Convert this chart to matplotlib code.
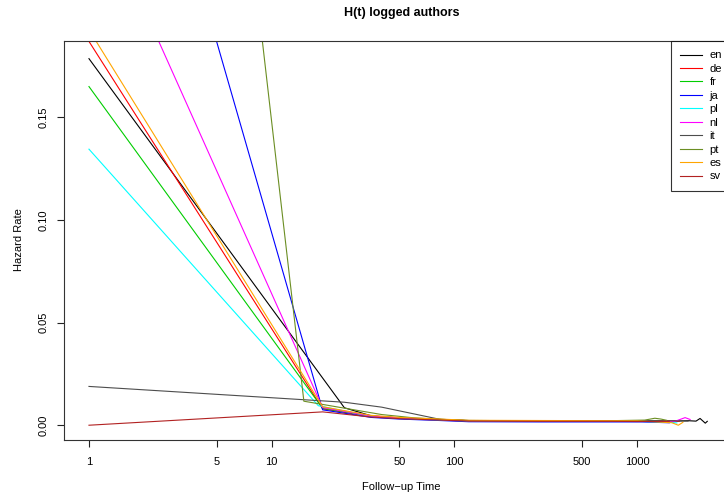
import matplotlib
matplotlib.use("Agg")
import matplotlib.pyplot as plt

plt.rcParams['font.family'] = ['Liberation Sans', 'DejaVu Sans']

# Hazard estimates per language (time in days, hazard rate)
t_en = [1, 25, 35, 50, 83, 120, 300, 700, 1100, 1500, 1900, 2100, 2210, 2360, 2420]
h_en = [0.1786, 0.0085, 0.0046, 0.0035, 0.0028, 0.0022, 0.0021, 0.0021, 0.0021,
        0.0020, 0.0022, 0.0020, 0.0033, 0.0010, 0.0019]

t_de = [1, 19, 35, 50, 83, 120, 300, 700, 1000, 1300, 1700]
h_de = [0.187, 0.0080, 0.0042, 0.0034, 0.0027, 0.0022, 0.0021, 0.0020, 0.0020, 0.0021, 0.0019]

t_fr = [1, 19, 35, 50, 83, 120, 300, 700, 1000, 1300]
h_fr = [0.165, 0.0082, 0.0044, 0.0035, 0.0028, 0.0022, 0.0021, 0.0021, 0.0020, 0.0022]

t_ja = [1, 19, 35, 50, 83, 120, 300, 700, 1060, 1500]
h_ja = [0.403, 0.0075, 0.0038, 0.0030, 0.0023, 0.0017, 0.0016, 0.0016, 0.0016, 0.0012]

t_pl = [1, 18, 35, 50, 83, 120, 300, 700, 1000, 1500, 1650]
h_pl = [0.1345, 0.0095, 0.0043, 0.0034, 0.0026, 0.0021, 0.0020, 0.0020, 0.0019, 0.0015, 0.0011]

t_nl = [1, 19, 35, 50, 83, 120, 300, 700, 1000, 1600, 1830, 1950]
h_nl = [0.263, 0.0086, 0.0045, 0.0036, 0.0028, 0.0022, 0.0021, 0.0021, 0.0020, 0.0018, 0.0037, 0.0028]

t_it = [1, 25, 40, 83, 120, 300, 700, 1000, 1400, 1900]
h_it = [0.0189, 0.0112, 0.0088, 0.0029, 0.0023, 0.0022, 0.0022, 0.0021, 0.0022, 0.0020]

t_pt = [1, 15, 40, 60, 83, 120, 300, 700, 1100, 1250, 1350, 1450]
h_pt = [0.92, 0.0117, 0.0052, 0.0036, 0.0029, 0.0023, 0.0022, 0.0022, 0.0025, 0.0034, 0.0030, 0.0024]

t_es = [1, 19, 35, 50, 83, 120, 300, 700, 1000, 1550, 1680, 1780]
h_es = [0.1927, 0.0090, 0.0048, 0.0038, 0.0030, 0.0024, 0.0023, 0.0022, 0.0021, 0.0012, 0.0000, 0.0014]

t_sv = [1, 19, 35, 50, 83, 120, 300, 700, 1000, 1500]
h_sv = [0.0000, 0.0065, 0.0040, 0.0032, 0.0025, 0.0020, 0.0019, 0.0019, 0.0018, 0.0019]

languages = ["en", "de", "fr", "ja", "pl", "nl", "it", "pt", "es", "sv"]
series_t = [t_en, t_de, t_fr, t_ja, t_pl, t_nl, t_it, t_pt, t_es, t_sv]
series_h = [h_en, h_de, h_fr, h_ja, h_pl, h_nl, h_it, h_pt, h_es, h_sv]
colors = ["#000000", "#FF0000", "#00CD00", "#0000FF", "#00FFFF",
          "#FF00FF", "#4D4D4D", "#6B8E23", "#FFA500", "#B22222"]

x_ticks = [1, 5, 10, 50, 100, 500, 1000]
y_ticks = [0.00, 0.05, 0.10, 0.15]

W, H = 724, 496
fig = plt.figure(figsize=(W / 100, H / 100), dpi=100)
ax = fig.add_axes([64 / W, 56 / H, 675 / W, 399 / H])

for t, h, c, lab in zip(series_t, series_h, colors, languages):
    ax.plot(t, h, color=c, lw=0.8, label=lab)

ax.set_xscale("log")
ax.set_xlim(0.73, 3610)
ax.set_ylim(-0.0072, 0.1872)

ax.set_xticks(x_ticks)
ax.set_xticklabels([str(v) for v in x_ticks])
ax.xaxis.set_minor_locator(matplotlib.ticker.NullLocator())
ax.set_yticks(y_ticks)
ax.set_yticklabels(["%.2f" % v for v in y_ticks], rotation=90, va="center")

ax.tick_params(axis="both", length=5, width=0.8, labelsize=8, color="#222222")
ax.tick_params(axis="x", pad=7.5)
ax.tick_params(axis="y", pad=6)
for s in ax.spines.values():
    s.set_linewidth(0.8)
    s.set_color("#333333")

fig.text(401.5 / W, 1 - 13 / H, "H(t) logged authors", ha="center", va="center",
         fontsize=9, fontweight="bold")
fig.text(401.5 / W, 1 - 487 / H, "Follow\u2212up Time", ha="center", va="center", fontsize=8)
fig.text(19 / W, 1 - 240 / H, "Hazard Rate", ha="center", va="center", fontsize=8,
         rotation=90)

leg = ax.legend(loc="upper left", bbox_to_anchor=((671 - 64) / 675, 1.0),
                fontsize=8, frameon=True, fancybox=False, borderaxespad=0,
                handlelength=1.9, handletextpad=0.7, borderpad=0.85,
                labelspacing=0.31)
leg.get_frame().set_edgecolor("#000000")
leg.get_frame().set_linewidth(0.8)

fig.savefig("out.png", dpi=100)
